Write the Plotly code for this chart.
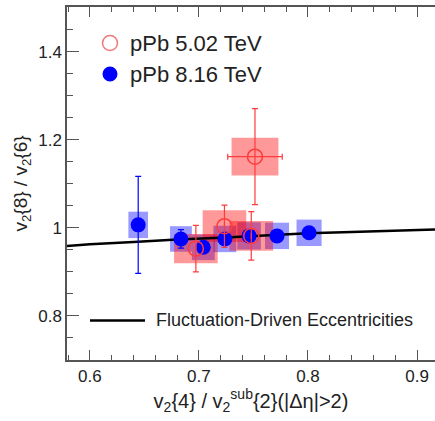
import plotly.graph_objects as go

# ---- data ----
# pPb 5.02 TeV (open red circles)
x_502 = [0.6972, 0.7234, 0.7480, 0.7514]
y_502 = [0.953, 1.004, 0.982, 1.162]
yerr_502 = [0.053, 0.048, 0.055, 0.109]
xerr_502 = [0.0, 0.0, 0.0, 0.025]
sysx_502 = [0.020, 0.020, 0.020, 0.0215]
sysy_502 = [0.033, 0.036, 0.034, 0.043]

# pPb 8.16 TeV (filled blue circles)
x_816 = [0.6443, 0.6835, 0.7040, 0.7238, 0.7460, 0.7716, 0.8010]
y_816 = [1.007, 0.975, 0.956, 0.975, 0.982, 0.982, 0.989]
yerr_816 = [0.110, 0.021, 0.0, 0.0, 0.0, 0.0, 0.0]
sysx_816 = [0.009, 0.010, 0.0105, 0.0105, 0.0108, 0.011, 0.0115]
sysy_816 = [0.030, 0.029, 0.029, 0.030, 0.031, 0.030, 0.030]

# Fluctuation-driven eccentricities curve
x_curve = [0.579, 0.60, 0.64, 0.68, 0.72, 0.76, 0.80, 0.84, 0.88, 0.92]
y_curve = [0.959, 0.963, 0.968, 0.974, 0.978, 0.983, 0.988, 0.991, 0.994, 0.997]

legend_labels = ["pPb 5.02 TeV", "pPb 8.16 TeV"]
curve_label = "Fluctuation-Driven Eccentricities"

FONT = "Liberation Sans, Arial, Helvetica, sans-serif"
TXT = "#222222"
RED = "#ff3b3b"
BLUE = "#0000ff"

fig = go.Figure()

shapes = []
# systematic boxes (blue first, red on top)
for xc, yc, dx, dy in zip(x_816, y_816, sysx_816, sysy_816):
    shapes.append(dict(type="rect", xref="x", yref="y", x0=xc - dx, x1=xc + dx,
                       y0=yc - dy, y1=yc + dy, fillcolor="rgba(0,0,255,0.4)",
                       line=dict(width=0), layer="below"))
for xc, yc, dx, dy in zip(x_502, y_502, sysx_502, sysy_502):
    shapes.append(dict(type="rect", xref="x", yref="y", x0=xc - dx, x1=xc + dx,
                       y0=yc - dy, y1=yc + dy, fillcolor="rgba(255,0,0,0.4)",
                       line=dict(width=0), layer="below"))

fig.add_trace(go.Scatter(x=x_curve, y=y_curve, mode="lines",
                         line=dict(color="black", width=2.5), showlegend=False,
                         hoverinfo="skip"))

fig.add_trace(go.Scatter(
    x=x_816, y=y_816, mode="markers",
    marker=dict(symbol="circle", size=15, color=BLUE),
    error_y=dict(type="data", array=yerr_816, color=BLUE, thickness=1.2, width=3),
    showlegend=False))

fig.add_trace(go.Scatter(
    x=x_502, y=y_502, mode="markers",
    marker=dict(symbol="circle-open", size=15, color=RED, line=dict(width=1.5, color=RED)),
    error_y=dict(type="data", array=yerr_502, color=RED, thickness=1.2, width=3),
    error_x=dict(type="data", array=xerr_502, color=RED, thickness=1.2, width=3),
    showlegend=False))

# ---- hand-made legends (paper coordinates) ----
# plot area: left 67, right 435, top 7, bottom 360 -> width 368, height 353
def px_x(p):
    return (p - 67) / 368.0

def px_y(p):
    return (360 - p) / 353.0

leg_sym = ["open", "filled"]
leg_y = [43, 74]
for sym, yy in zip(leg_sym, leg_y):
    if sym == "open":
        shapes.append(dict(type="circle", xref="paper", yref="paper",
                           xsizemode="pixel", ysizemode="pixel",
                           xanchor=px_x(110), yanchor=px_y(yy),
                           x0=-7.5, x1=7.5, y0=-7.5, y1=7.5,
                           line=dict(color="#f07878", width=1.5), fillcolor="rgba(0,0,0,0)"))
    else:
        shapes.append(dict(type="circle", xref="paper", yref="paper",
                           xsizemode="pixel", ysizemode="pixel",
                           xanchor=px_x(110), yanchor=px_y(yy),
                           x0=-7.5, x1=7.5, y0=-7.5, y1=7.5,
                           line=dict(color=BLUE, width=0), fillcolor=BLUE))

annotations = []
for lab, yy in zip(legend_labels, leg_y):
    annotations.append(dict(text=lab, xref="paper", yref="paper", x=px_x(128), y=px_y(yy),
                            xanchor="left", yanchor="middle", showarrow=False,
                            font=dict(family=FONT, size=22, color=TXT)))

shapes.append(dict(type="line", xref="paper", yref="paper",
                   x0=px_x(90), x1=px_x(145), y0=px_y(320.5), y1=px_y(320.5),
                   line=dict(color="black", width=2.5)))
annotations.append(dict(text=curve_label, xref="paper", yref="paper", x=px_x(154), y=px_y(320),
                        xanchor="left", yanchor="middle", showarrow=False,
                        font=dict(family=FONT, size=18, color=TXT)))

fig.update_layout(
    width=435, height=421,
    margin=dict(l=67, r=0, t=7, b=61, autoexpand=False),
    paper_bgcolor="white", plot_bgcolor="white",
    font=dict(family=FONT, size=17, color=TXT),
    shapes=shapes, annotations=annotations,
    showlegend=False,
    xaxis=dict(range=[0.579, 0.9165], tick0=0.6, dtick=0.1, ticks="inside", ticklen=10,
               tickcolor="#555", tickwidth=1, showline=True, linecolor="#555", linewidth=1.5,
               mirror="allticks", showgrid=False, zeroline=False, automargin=False,
               tickfont=dict(family=FONT, size=17, color=TXT),
               minor=dict(dtick=0.02, tick0=0.6, ticks="inside", ticklen=5,
                          tickcolor="#555", showgrid=False),
               title=dict(text="v<sub>2</sub>{4} / v<sub>2</sub><sup>sub</sup>{2}(|Δη|>2)",
                          font=dict(family=FONT, size=20, color=TXT), standoff=5)),
    yaxis=dict(range=[0.7, 1.502], tick0=0.8, dtick=0.2, ticks="inside", ticklen=12,
               tickcolor="#555", tickwidth=1, showline=True, linecolor="#555", linewidth=1.5,
               showgrid=False, zeroline=False, automargin=False,
               tickfont=dict(family=FONT, size=17, color=TXT),
               minor=dict(dtick=0.05, tick0=0.7, ticks="inside", ticklen=6,
                          tickcolor="#555", showgrid=False),
               title=dict(text="v<sub>2</sub>{8} / v<sub>2</sub>{6}",
                          font=dict(family=FONT, size=19, color=TXT), standoff=6)),
)

fig.write_html("out.html", config={"displayModeBar": False},
               post_script="document.body.style.margin='0px';document.body.style.overflow='hidden';")
